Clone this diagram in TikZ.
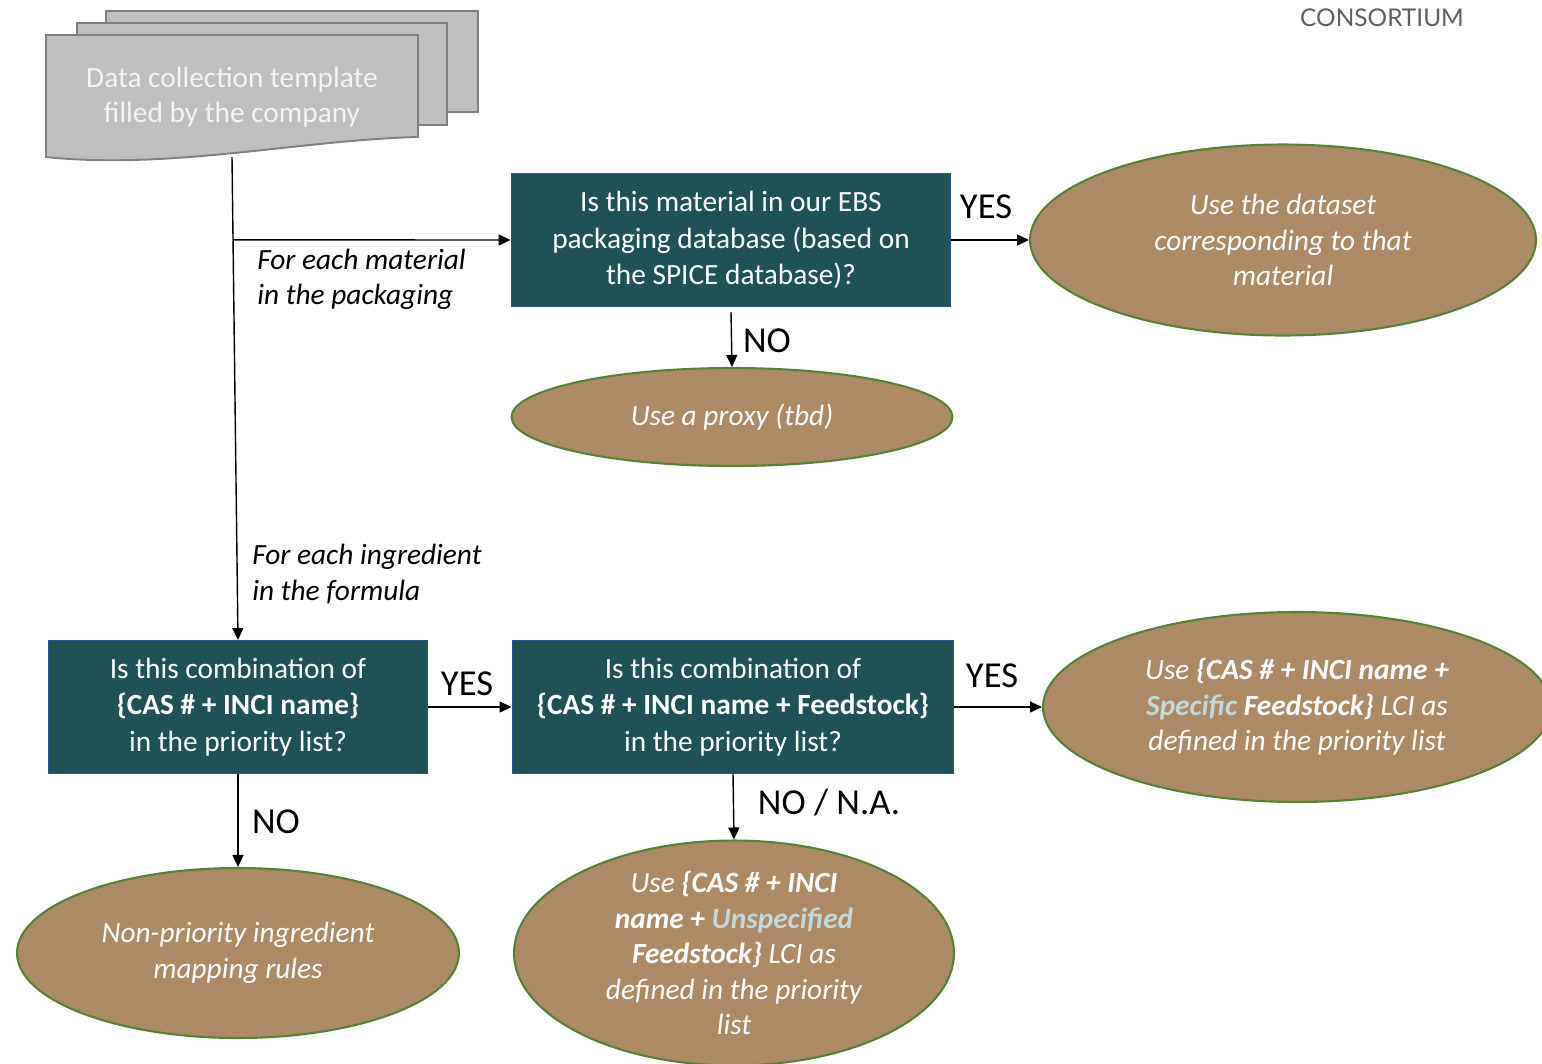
\documentclass[tikz,border=0pt]{standalone}
\usepackage{fontspec}
\setmainfont{Carlito}
\newfontfamily\logofont{Lato}
\usetikzlibrary{arrows.meta,calc,shapes.geometric}
\definecolor{ink}     {HTML}{000000}
\definecolor{qfill}   {HTML}{1D5357}
\definecolor{qline}   {HTML}{2F528F}
\definecolor{rfill}   {HTML}{AD8A64}
\definecolor{rline}   {HTML}{548235}
\definecolor{docfill} {HTML}{BFBFBF}
\definecolor{docline} {HTML}{7F7F7F}
\definecolor{doctext} {HTML}{F4F4F4}
\definecolor{hilite}  {HTML}{C3D8DB}
\definecolor{logogray}{HTML}{5E5E5E}
\tikzset{
  qbox/.style={
    rectangle, draw=qline, line width=0.6pt, fill=qfill,
    text=white, font=\fontsize{16.7}{20.6}\selectfont, align=center,
    minimum height=2.66cm, inner sep=2pt
  },
  result/.style={
    ellipse, draw=rline, line width=1.2pt, fill=rfill,
    text=white, font=\fontsize{16.7}{20.2}\selectfont\itshape, align=center,
    inner sep=0pt
  },
  flowarrow/.style={
    -{Triangle[length=2.4mm, width=2.2mm]}, line width=0.8pt, draw=ink
  },
  answer/.style={font=\fontsize{20.8}{24}\selectfont, text=ink, inner sep=0pt},
  loopnote/.style={font=\fontsize{16.7}{20}\selectfont\itshape, align=left,
                   anchor=west, inner sep=0pt}
}
\newcommand{\hl}[1]{\textcolor{hilite}{#1}}

\begin{document}
\begin{tikzpicture}[x=0.02cm, y=-0.02cm,
    sheet/.style={fill=docfill, draw=docline, line width=1.1pt}
  ]
  \useasboundingbox (0,0) rectangle (1542,1063);

  % stacked template sheets
  \draw[sheet] (106,11) rectangle (478,112);
  \draw[sheet] (77,23) rectangle (447,125);
  \draw[sheet] (46,35) -- (418,35) -- (418,137)
    .. controls (300,140) and (170,170) .. (46,157) -- cycle;
  \node[text=doctext, font=\fontsize{16.7}{20}\selectfont, align=center] (doc)
    at (232,97) {Data collection template\\filled by the company};
  \coordinate (docout) at (232,157);

  \node[text=logogray, font=\logofont\fontsize{13.9}{16}\selectfont] (logo)
    at (1382,18) {CONSORTIUM};

  % packaging branch
  \node[qbox, minimum width=8.8cm] (ebs) at (731,240)
    {Is this material in our EBS\\packaging database (based on\\the SPICE database)?};
  \node[result, minimum width=10.12cm, minimum height=3.82cm] (dataset) at (1283,240)
    {Use the dataset\\corresponding to that\\material};
  \node[result, minimum width=8.82cm, minimum height=1.96cm] (proxy) at (732,417)
    {Use a proxy (tbd)};

  % ingredient branch
  \node[qbox, minimum width=7.6cm] (cas) at (238,707)
    {Is this combination of\\\textbf{\{CAS \# + INCI name\}}\\in the priority list?};
  \node[qbox, minimum width=8.84cm] (feed) at (733,707)
    {Is this combination of\\\textbf{\{CAS \# + INCI name + Feedstock\}}\\in the priority list?};
  \node[result, minimum width=10.16cm, minimum height=3.8cm] (specific) at (1297,707)
    {Use \textbf{\{CAS \# + INCI name +}\\\textbf{\hl{Specific} Feedstock\}} LCI as\\defined in the priority list};
  \node[result, minimum width=8.84cm, minimum height=3.4cm] (nonprio) at (238,953)
    {Non-priority ingredient\\mapping rules};
  \node[result, minimum width=8.8cm, minimum height=4.5cm, inner ysep=-6pt] (unspec) at (734,953)
    {Use \textbf{\{CAS \# + INCI}\\\textbf{name + \hl{Unspecified}}\\\textbf{Feedstock\}} LCI as\\defined in the priority\\list};

  % connectors
  \coordinate (split) at ($(docout)!0.1715!(cas.north)$);
  \draw[flowarrow] (docout) -- (cas.north);
  \draw[flowarrow] (split) -- (ebs.west);
  \draw[flowarrow] (ebs.east) -- (dataset.west);
  \draw[flowarrow] ([yshift=-0.1cm]ebs.south) -- (proxy.north);
  \draw[flowarrow] (cas.east) -- (feed.west);
  \draw[flowarrow] (feed.east) -- (specific.west);
  \draw[flowarrow] (cas.south) -- (nonprio.north);
  \draw[flowarrow] (feed.south) -- (unspec.north);

  % labels
  \node[answer] (yes1) at (986,207) {YES};
  \node[answer] (no1) at (767,341) {NO};
  \node[answer] (yes2) at (467,684) {YES};
  \node[answer] (yes3) at (992,676) {YES};
  \node[answer] (no2) at (276,822) {NO};
  \node[answer] (no3) at (829,803) {NO / N.A.};
  \node[loopnote] (matnote) at (257,279) {For each material\\in the packaging};
  \node[loopnote] (ingnote) at (252,574) {For each ingredient\\in the formula};
\end{tikzpicture}
\end{document}
